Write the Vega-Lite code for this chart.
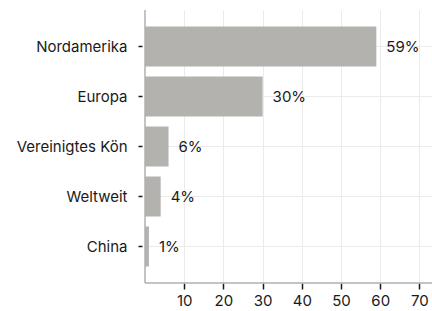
{
  "$schema": "https://vega.github.io/schema/vega-lite/v6.json",
  "autosize": "none",
  "width": 287,
  "height": 273,
  "padding": {"left": 145, "top": 10, "right": 0, "bottom": 28},
  "background": "white",
  "config": {
    "font": "Inter",
    "view": {"stroke": null},
    "axis": {
      "labelFont": "Inter",
      "labelFontSize": 15,
      "labelColor": "#1a1a1a",
      "tickColor": "#1a1a1a",
      "tickWidth": 1.5,
      "gridColor": "#ebebeb",
      "gridWidth": 1,
      "title": null
    }
  },
  "data": {
    "values": [
      {"region": "Nordamerika", "share": 59, "label": "59%"},
      {"region": "Europa", "share": 30, "label": "30%"},
      {"region": "Vereinigtes Kön", "share": 6, "label": "6%"},
      {"region": "Weltweit", "share": 4, "label": "4%"},
      {"region": "China", "share": 1, "label": "1%"}
    ]
  },
  "layer": [
    {
      "encoding": {
        "y": {
          "field": "region",
          "type": "nominal",
          "sort": null,
          "scale": {"paddingInner": 0.2, "paddingOuter": 0.33},
          "axis": {"offset": 3, "domain": false, "tickSize": 4, "labelPadding": 11, "grid": true}
        },
        "x": {
          "field": "share",
          "type": "quantitative",
          "scale": {"domain": [0, 73.2], "nice": false, "zero": true},
          "axis": {"values": [10, 20, 30, 40, 50, 60, 70], "tickSize": 6, "labelPadding": 4, "grid": true, "domain": false}
        }
      },
      "layer": [
        {"mark": {"type": "bar", "color": "#b3b2ae"}},
        {"mark": {"type": "text", "align": "left", "dx": 10, "fontSize": 15, "font": "Inter", "color": "#1a1a1a"},
         "encoding": {"text": {"field": "label"}}}
      ]
    },
    {
      "data": {"values": [{"x0": 0, "x1": 73.2, "y0": 0, "y1": 1}]},
      "layer": [
        {
          "mark": {"type": "rule", "color": "#b0b0b0", "strokeWidth": 1.5},
          "encoding": {
            "x": {"field": "x0", "type": "quantitative"},
            "y": {"field": "y0", "type": "quantitative", "scale": {"domain": [0, 1]}, "axis": null},
            "y2": {"field": "y1"}
          }
        },
        {
          "mark": {"type": "rule", "color": "#b0b0b0", "strokeWidth": 1.5},
          "encoding": {
            "x": {"field": "x0", "type": "quantitative"},
            "x2": {"field": "x1"},
            "y": {"field": "y0", "type": "quantitative", "scale": {"domain": [0, 1]}, "axis": null}
          }
        }
      ]
    }
  ],
  "resolve": {"scale": {"y": "independent"}, "axis": {"y": "independent"}}
}
